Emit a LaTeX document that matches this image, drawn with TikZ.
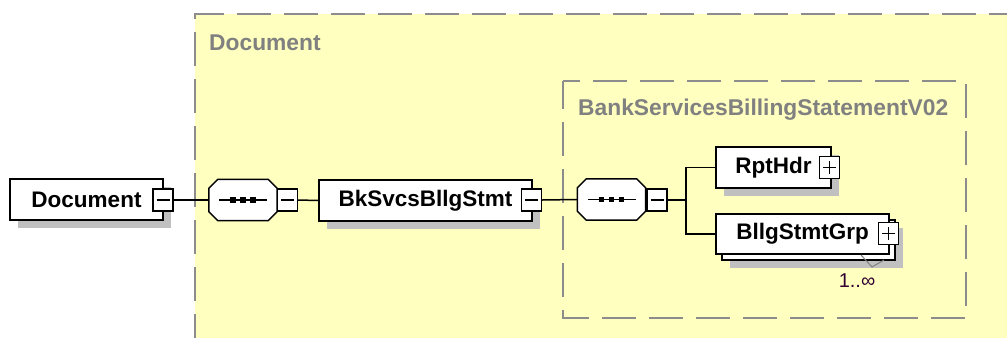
\documentclass[tikz,border=0pt]{standalone}
\usepackage{fontspec}
\setmainfont{Liberation Sans}
\usetikzlibrary{shadows}
\definecolor{bgyellow}{RGB}{255,255,192}
\definecolor{dashgray}{RGB}{140,140,140}
\definecolor{shadowgray}{RGB}{192,192,192}
\definecolor{titlegray}{RGB}{128,128,128}
\definecolor{multcol}{RGB}{50,0,50}
\newcommand\octpath[2]{% #1 node name, #2 chamfer
  ([xshift=#2]#1.north west) -- ([xshift=-#2]#1.north east) -- ([yshift=-#2]#1.north east) --
  ([yshift=#2]#1.south east) -- ([xshift=-#2]#1.south east) -- ([xshift=#2]#1.south west) --
  ([yshift=#2]#1.south west) -- ([yshift=-#2]#1.north west) -- cycle}
\newcommand\drawseq[1]{%
  \fill[shadowgray, shift={(8pt,8pt)}] \octpath{#1}{9pt};
  \filldraw[seqline, fill=white] \octpath{#1}{9pt};
  \draw[seqline] ([xshift=-24pt]#1.center) -- ([xshift=24pt]#1.center);
  \foreach \dx in {-10,0,10}{\fill ([xshift=\dx pt]#1.center) +(-2.8,-2.8) rectangle +(2.8,2.8);}}
\begin{document}
\begin{tikzpicture}[x=1pt,y=-1pt,
  shad/.style={drop shadow={shadow xshift=8pt, shadow yshift=-8pt, fill=shadowgray, opacity=1}},
  elembox/.style={rectangle, draw=black, line width=1.5pt, fill=white, minimum height=41pt,
    inner sep=0pt, font=\bfseries\fontsize{22.5}{27}\selectfont},
  seqbox/.style={rectangle, draw=none, minimum width=68pt, minimum height=41pt, inner sep=0pt},
  seqline/.style={draw=black, line width=1.5pt, solid},
  pmbox/.style={rectangle, draw=black, line width=1.4pt, fill=white, minimum width=20pt, minimum height=22pt, inner sep=0pt},
  minusbox/.style={pmbox, path picture={
      \draw[line width=1.4pt] ([xshift=-6.5pt]path picture bounding box.center) -- ([xshift=6.5pt]path picture bounding box.center);}},
  plusbox/.style={pmbox, path picture={
      \draw[line width=1.4pt] ([xshift=-6.5pt]path picture bounding box.center) -- ([xshift=6.5pt]path picture bounding box.center);
      \draw[line width=1.4pt] ([yshift=-6.5pt]path picture bounding box.center) -- ([yshift=6.5pt]path picture bounding box.center);}},
  conn/.style={draw=black, line width=1.5pt},
  dashframe/.style={draw=dashgray, line width=2pt, dash pattern=on 34pt off 13pt},
  title/.style={text=titlegray, font=\bfseries\fontsize{22.8}{27}\selectfont, inner sep=0pt, anchor=base west}
]
\useasboundingbox (0,0) rectangle (1007,338);
% outer group
\fill[bgyellow] (195,14) rectangle (1007,338);
\draw[dashframe, dash phase=10pt] (195,338) -- (195,14) -- (1007,14);
\node[title] (t1) at (209,50) {Document};
% inner group
\draw[dashframe, dash phase=6pt] (563,81) rectangle (966,318);
\node[title] (t2) at (578,115) {BankServicesBillingStatementV02};

% nodes
\node[elembox, shad, minimum width=153pt] (doc) at (86.5,199.5) {Document};
\node[minusbox] (docm) at (163,200) {};
\node[seqbox] (seq1) at (243,200) {};
\drawseq{seq1}
\node[minusbox] (seq1m) at (287.5,200) {};
\node[elembox, shad, minimum width=213pt] (bk) at (425.5,200.5) {BkSvcsBllgStmt};
\node[minusbox] (bkm) at (531.5,200) {};
\node[seqbox] (seq2) at (611.5,199.5) {};
\drawseq{seq2}
\node[minusbox] (seq2m) at (657,200) {};
\node[elembox, shad, minimum width=115pt] (rpt) at (773.5,167.5) {RptHdr};
\node[plusbox] (rptp) at (829.5,167.5) {};
\node[elembox, shad, minimum width=173pt, minimum height=40pt] (grpb) at (808.5,240) {};
\node[elembox, minimum width=173pt, minimum height=40pt] (grp) at (802.5,234) {BllgStmtGrp};
\node[plusbox] (grpp) at (888.5,233.5) {};
\coordinate (j) at (686,200);
\draw[draw=titlegray, line width=1pt] (861,255) -- (872,267) -- (884,260);
\node[text=multcol, font=\fontsize{20}{24}\selectfont, inner sep=0pt] (mult) at (857,281) {1..∞};

% connectors
\draw[conn] (docm.east) -- (seq1.west);
\draw[conn] (seq1m.east) -- (bk.west);
\draw[conn] (bkm.east) -- (seq2.west);
\draw[conn] (seq2m.east) -- (j);
\draw[conn] (rpt.west) -| (j) |- (grp.west);
\end{tikzpicture}
\end{document}
